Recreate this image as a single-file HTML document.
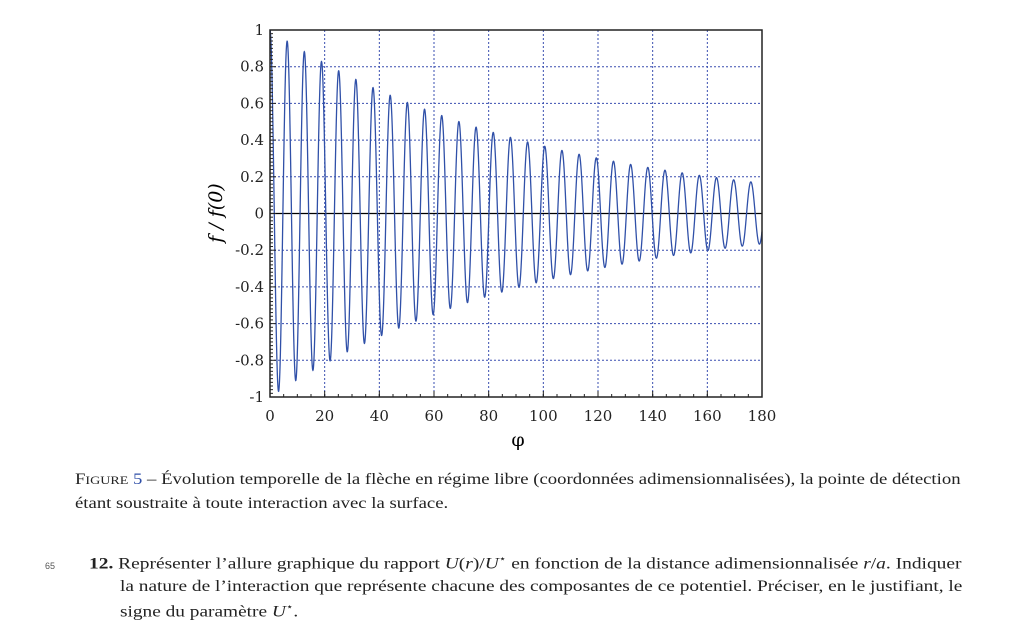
<!DOCTYPE html>
<html><head><meta charset="utf-8"><style>
body{margin:0;background:#fff;width:1022px;height:634px;overflow:hidden;font-family:"Liberation Serif",serif;color:#222;}
.t{position:absolute;font-size:16px;white-space:nowrap;transform-origin:0 0;}
</style></head><body>
<svg width="1022" height="460" style="position:absolute;left:0;top:0" font-family="DejaVu Serif, serif">
<g id="grid" stroke="#3a4fb0" stroke-width="1" stroke-dasharray="2,2"></g>
<line x1="270" y1="213.5" x2="762" y2="213.5" stroke="#000" stroke-width="1.3"/>
<path id="curve" fill="none" stroke="#3050a8" stroke-width="1.3"/>
<rect x="270" y="30" width="492" height="367" fill="none" stroke="#222" stroke-width="1.5"/>
<g id="ticks" stroke="#222" stroke-width="1"></g>
<g id="lab" font-size="15" fill="#222"></g>
<text x="518" y="446" font-size="19" text-anchor="middle">φ</text>
<text transform="translate(222,213) rotate(-90)" font-size="19" font-style="italic" text-anchor="middle">f / f(0)</text>
</svg>
<div class="t" style="left:75px;top:471px;transform:scaleX(1.17)">F<span style="font-size:12px">IGURE</span> <span style="color:#3050a8">5</span> – Évolution temporelle de la flèche en régime libre (coordonnées adimensionnalisées), la pointe de détection</div>
<div class="t" style="left:75px;top:495px;transform:scaleX(1.17)">étant soustraite à toute interaction avec la surface.</div>
<div class="t" style="left:45px;top:561px;font-size:9px;font-family:'Liberation Sans',sans-serif;color:#555">65</div>
<div class="t" style="left:89px;top:554px;transform:scaleX(1.215)"><b>12.</b> Représenter l’allure graphique du rapport <i>U</i>(<i>r</i>)/<i>U</i><sup style="font-size:10px">⋆</sup> en fonction de la distance adimensionnalisée <i>r</i>/<i>a</i>. Indiquer</div>
<div class="t" style="left:120px;top:578px;transform:scaleX(1.208)">la nature de l’interaction que représente chacune des composantes de ce potentiel. Préciser, en le justifiant, le</div>
<div class="t" style="left:120px;top:602px;transform:scaleX(1.208)">signe du paramètre <i>U</i><sup style="font-size:10px">⋆</sup>.</div>
<script>
var X0=270,XS=492/180,Y0=213.5,YS=183.5;
var d="";for(var i=0;i<=3600;i++){var p=i*180/3600;var v=Math.cos(p)*Math.exp(-p/100);d+=(i?"L":"M")+(X0+p*XS).toFixed(2)+","+(Y0-v*YS).toFixed(2);}
document.getElementById("curve").setAttribute("d",d);
var g="",t="",l="";
for(var x=20;x<180;x+=20){var px=X0+x*XS;g+='<line x1="'+px+'" y1="30" x2="'+px+'" y2="397"/>';}
for(var k=-4;k<=4;k++){if(k==0)continue;var py=Y0-k*0.2*YS;g+='<line x1="270" y1="'+py+'" x2="762" y2="'+py+'"/>';}
for(var x=0;x<=180;x+=20){var px=X0+x*XS;t+='<line x1="'+px+'" y1="397" x2="'+px+'" y2="391"/>';l+='<text x="'+px+'" y="421" text-anchor="middle">'+x+'</text>';}
for(var x=5;x<180;x+=5){var px=X0+x*XS;t+='<line x1="'+px+'" y1="397" x2="'+px+'" y2="394"/>';}
for(var k=-5;k<=5;k++){var py=Y0-k*0.2*YS;t+='<line x1="270" y1="'+py+'" x2="276" y2="'+py+'"/>';var s=(k*0.2).toFixed(1).replace(/\.0$/,"");if(s=="-0")s="0";l+='<text x="264" y="'+(py+5)+'" text-anchor="end">'+s+'</text>';}
for(var k=-50;k<=50;k++){if(k%10==0)continue;var py=Y0-k*0.02*YS;t+='<line x1="270" y1="'+py+'" x2="273" y2="'+py+'"/>';}
document.getElementById("grid").innerHTML=g;document.getElementById("ticks").innerHTML=t;document.getElementById("lab").innerHTML=l;
</script>
</body></html>
